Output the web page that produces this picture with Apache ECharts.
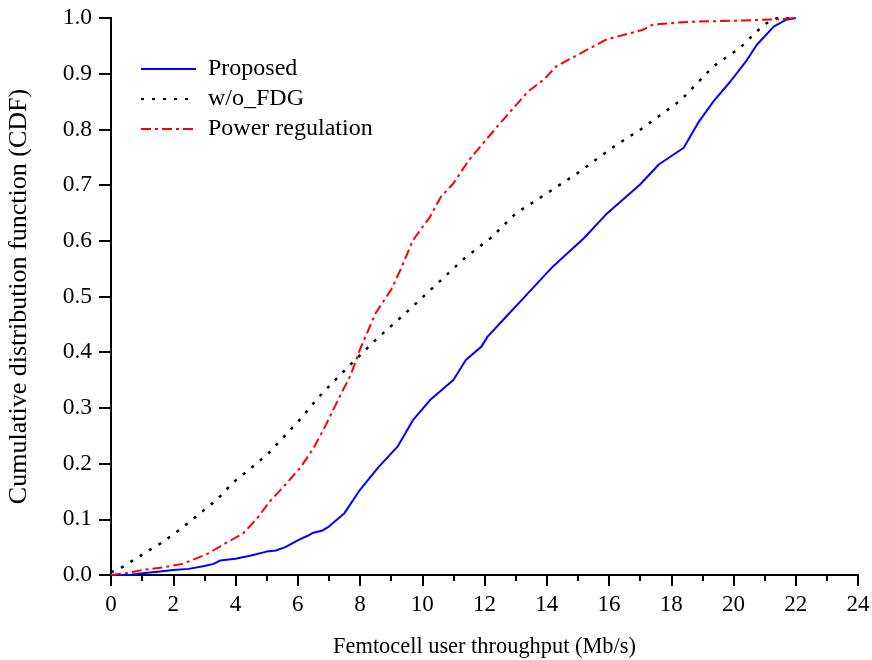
<!DOCTYPE html>
<html><head><meta charset="utf-8">
<script src="https://cdn.jsdelivr.net/npm/echarts@6/dist/echarts.min.js"></script>
<style>html,body{margin:0;padding:0;background:#fff}#c{width:872px;height:660px}</style>
</head><body><div id="c"></div>
<script>
var seriesNames = ['Proposed', 'w/o_FDG', 'Power regulation'];
var proposedX = [0, 0.6, 1.0, 1.5, 2.0, 2.5, 3.0, 3.3, 3.5, 4.0, 4.5, 5.0, 5.3, 5.6, 6.0, 6.3, 6.5, 6.8, 7.0, 7.5, 8.0, 8.6, 9.2, 9.7, 10.25, 11.0, 11.4, 11.9, 12.1, 12.7, 13.2, 14.2, 15.2, 15.9, 17.0, 17.6, 18.4, 18.9, 19.35, 19.9, 20.4, 20.75, 21.3, 21.7, 22.0];
var proposedY = [0, 0, 0.003, 0.006, 0.009, 0.011, 0.016, 0.02, 0.026, 0.029, 0.035, 0.042, 0.044, 0.05, 0.062, 0.07, 0.076, 0.08, 0.087, 0.111, 0.153, 0.194, 0.23, 0.278, 0.314, 0.35, 0.386, 0.41, 0.428, 0.464, 0.494, 0.554, 0.605, 0.647, 0.701, 0.737, 0.767, 0.815, 0.85, 0.886, 0.922, 0.952, 0.985, 0.997, 1.0];
var noFdgX = [0, 0.3, 0.9, 1.6, 2.2, 2.8, 3.4, 3.9, 4.5, 5.05, 5.6, 6.1, 6.65, 7.2, 7.7, 8.5, 9.4, 10.5, 11.3, 12.2, 13.0, 14.0, 15.0, 16.1, 17.1, 18.3, 19.35, 20.2, 20.75, 21.07, 21.4, 22];
var noFdgY = [0.005, 0.012, 0.033, 0.057, 0.081, 0.108, 0.135, 0.165, 0.192, 0.218, 0.251, 0.281, 0.318, 0.35, 0.378, 0.422, 0.467, 0.524, 0.566, 0.605, 0.649, 0.685, 0.722, 0.767, 0.803, 0.852, 0.913, 0.946, 0.976, 0.991, 1.0, 1.0];
var powerX = [0, 0.6, 1.0, 1.7, 2.3, 3.1, 3.5, 4.25, 4.7, 5.1, 5.6, 6.1, 6.5, 6.9, 7.3, 7.7, 8.0, 8.5, 9.0, 9.3, 9.7, 10.25, 10.6, 11.0, 11.5, 12.5, 13.4, 13.9, 14.3, 15.1, 15.9, 17.1, 17.4, 18.5, 20.0, 21.6, 22];
var powerY = [0, 0.004, 0.009, 0.014, 0.02, 0.038, 0.051, 0.075, 0.102, 0.132, 0.162, 0.194, 0.227, 0.269, 0.315, 0.359, 0.405, 0.47, 0.512, 0.548, 0.601, 0.643, 0.679, 0.703, 0.745, 0.811, 0.868, 0.889, 0.913, 0.937, 0.961, 0.979, 0.988, 0.993, 0.995, 0.998, 1.0];
var xTicks = [0, 2, 4, 6, 8, 10, 12, 14, 16, 18, 20, 22, 24];
var yTicks = [0.0, 0.1, 0.2, 0.3, 0.4, 0.5, 0.6, 0.7, 0.8, 0.9, 1.0];

function pairs(xs, ys) { return xs.map(function (x, i) { return [x, ys[i]]; }); }
var FONT = 'Liberation Serif';
var axisLine = { show: true, lineStyle: { color: '#000', width: 2 } };
var chart = echarts.init(document.getElementById('c'));
chart.setOption({
  animation: false,
  backgroundColor: '#fff',
  grid: { left: 111, right: 14, top: 18, bottom: 85, containLabel: false, outerBoundsMode: 'none' },
  legend: {
    orient: 'vertical', left: 135, top: 52, itemWidth: 55, itemHeight: 14, itemGap: 6,
    itemStyle: { opacity: 0 },
    textStyle: { fontFamily: FONT, fontSize: 24, color: '#000', padding: [0, 0, 0, 7] },
    data: seriesNames
  },
  xAxis: [{
    type: 'value', min: xTicks[0], max: xTicks[xTicks.length - 1], interval: 2,
    name: 'Femtocell user throughput (Mb/s)', nameLocation: 'middle', nameGap: 61,
    nameTextStyle: { fontFamily: FONT, fontSize: 22.4, color: '#000' },
    axisLine: axisLine,
    axisTick: { show: true, inside: false, length: 11, lineStyle: { color: '#000', width: 2 } },
    minorTick: { show: true, splitNumber: 2, length: 6, lineStyle: { color: '#000', width: 2 } },
    axisLabel: { fontFamily: FONT, fontSize: 23, color: '#000', margin: 18 },
    splitLine: { show: false }
  }, {
    type: 'value', position: 'top', min: 0, max: 24, interval: 1,
    axisLine: axisLine,
    axisTick: { show: true, inside: true, length: 3, lineStyle: { color: '#000', width: 1 } },
    axisLabel: { show: false }, splitLine: { show: false }
  }],
  yAxis: [{
    type: 'value', min: 0, max: 1, interval: 0.1,
    name: 'Cumulative distribution function (CDF)', nameLocation: 'middle', nameGap: 79,
    nameTextStyle: { fontFamily: FONT, fontSize: 26, color: '#000' },
    axisLine: axisLine,
    axisTick: { show: true, inside: false, length: 12, lineStyle: { color: '#000', width: 2 } },
    axisLabel: { fontFamily: FONT, fontSize: 23.5, color: '#000', margin: 19,
      formatter: function (v) { return v.toFixed(1); } },
    splitLine: { show: false }
  }, {
    type: 'value', position: 'right', min: 0, max: 1, interval: 0.1,
    axisLine: axisLine,
    axisTick: { show: true, inside: true, length: 3, lineStyle: { color: '#000', width: 1 } },
    axisLabel: { show: false }, splitLine: { show: false }
  }],
  series: [{
    name: seriesNames[0], type: 'line', symbol: 'none', data: pairs(proposedX, proposedY),
    itemStyle: { color: '#0000ff' }, lineStyle: { color: '#0000ff', width: 2, type: 'solid' }
  }, {
    name: seriesNames[1], type: 'line', symbol: 'none', data: pairs(noFdgX, noFdgY),
    itemStyle: { color: '#000' }, lineStyle: { color: '#000', width: 2.5, type: [3, 8] }
  }, {
    name: seriesNames[2], type: 'line', symbol: 'none', data: pairs(powerX, powerY),
    itemStyle: { color: '#ff0000' }, lineStyle: { color: '#ff0000', width: 2, type: [10, 4, 3, 4] }
  }]
});
</script></body></html>
